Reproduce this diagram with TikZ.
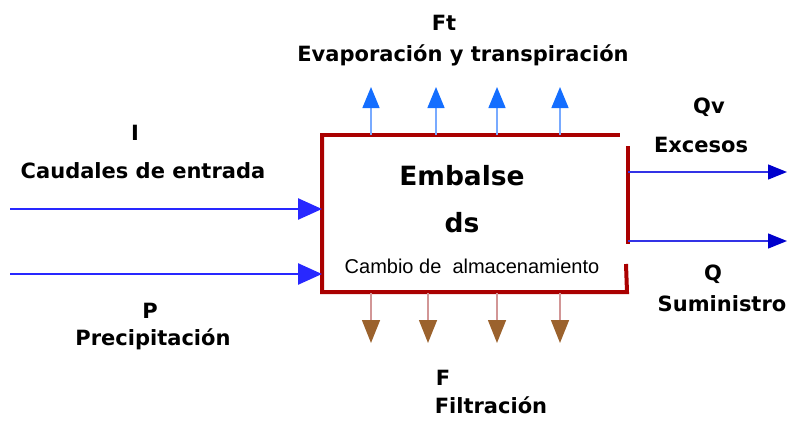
\documentclass[tikz,border=0pt]{standalone}
\usepackage{fontspec}
\setmainfont{DejaVu Sans}
\newfontfamily\arialfont{Liberation Sans}
\usetikzlibrary{arrows.meta}
\definecolor{boxred}{RGB}{170,0,0}
\definecolor{inblue}{RGB}{40,40,255}
\definecolor{outblue}{RGB}{50,50,230}
\definecolor{outhead}{RGB}{0,0,205}
\definecolor{upline}{RGB}{120,170,255}
\definecolor{uphead}{RGB}{20,110,255}
\definecolor{downline}{RGB}{210,150,150}
\definecolor{downhead}{RGB}{155,98,45}
\tikzset{
  lbl/.style={font=\bfseries\fontsize{21}{21}\selectfont, anchor=base, inner sep=0pt},
  boxedge/.style={draw=boxred, line width=4pt},
  inarrow/.style={draw=inblue, line width=2.6pt, -{Triangle[length=24pt,width=21pt]}},
  outarrow/.style={draw=outblue, line width=1.3pt, -{Triangle[length=19pt,width=15pt,color=outhead]}},
  uparrow/.style={draw=upline, line width=1.5pt, -{Triangle[length=21pt,width=17pt,color=uphead]}},
  downarrow/.style={draw=downline, line width=1.5pt, -{Triangle[length=23pt,width=18pt,color=downhead]}},
}
\begin{document}
\begin{tikzpicture}[x=1pt,y=-1pt]
\useasboundingbox (0,0) rectangle (788,421);
% reservoir box (drawn edge by edge because of its gaps)
\node[minimum width=306pt, minimum height=158pt, inner sep=0pt] (box) at (475,214) {};
\coordinate (tl) at (320,135);
\coordinate (tr) at (620,135);
\coordinate (bl) at (322,292);
\coordinate (br) at (627,292);
\coordinate (ru1) at (628,146);
\coordinate (ru2) at (628,244);
\coordinate (rl1) at (626,264);
\draw[boxedge] (tl) -- (tr);
\draw[boxedge] (322,135) -- (bl) -- (br) -- (rl1);
\draw[boxedge] (ru1) -- (ru2);
% texts inside box
\node[font=\bfseries\fontsize{26.5}{26.5}\selectfont, anchor=base, inner sep=0pt] (emb) at (462,185) {Embalse};
\node[font=\bfseries\fontsize{26.5}{26.5}\selectfont, anchor=base, inner sep=0pt] (ds) at (462,232) {ds};
\node[font=\arialfont\fontsize{20}{20}\selectfont, anchor=base, inner sep=0pt] (cambio) at (472,273) {Cambio de\ \ almacenamiento};
% inflows
\coordinate (i0) at (10,209);
\coordinate (i1) at (322,209);
\coordinate (p0) at (10,274);
\coordinate (p1) at (322,274);
\draw[inarrow] (i0) -- (i1);
\draw[inarrow] (p0) -- (p1);
% outflows
\coordinate (qv0) at (628,172);
\coordinate (qv1) at (787,172);
\coordinate (q0) at (628,241);
\coordinate (q1) at (787,241);
\draw[outarrow] (qv0) -- (qv1);
\draw[outarrow] (q0) -- (q1);
% evaporation arrows
\foreach \x [count=\k] in {371,436,497,560}{
  \coordinate (ua\k) at (\x,135);
  \coordinate (ub\k) at (\x,87);
  \draw[uparrow] (ua\k) -- (ub\k);
}
% filtration arrows
\foreach \x [count=\k] in {371,428,497,560}{
  \coordinate (da\k) at (\x,293);
  \coordinate (db\k) at (\x,343);
  \draw[downarrow] (da\k) -- (db\k);
}
% labels
\node[lbl] (ft) at (444,30) {Ft};
\node[lbl] (evap) at (463,61) {Evaporación y transpiración};
\node[lbl] (ii) at (135,140) {I};
\node[lbl] (caud) at (143,178) {Caudales de entrada};
\node[lbl] (pp) at (150,318) {P};
\node[lbl] (prec) at (153,345) {Precipitación};
\node[lbl] (ff) at (443,385) {F};
\node[lbl] (filt) at (491,413) {Filtración};
\node[lbl] (qv) at (709,113) {Qv};
\node[lbl] (exc) at (701,152) {Excesos};
\node[lbl] (qq) at (713,280) {Q};
\node[lbl] (sum) at (722,311) {Suministro};
\end{tikzpicture}
\end{document}
